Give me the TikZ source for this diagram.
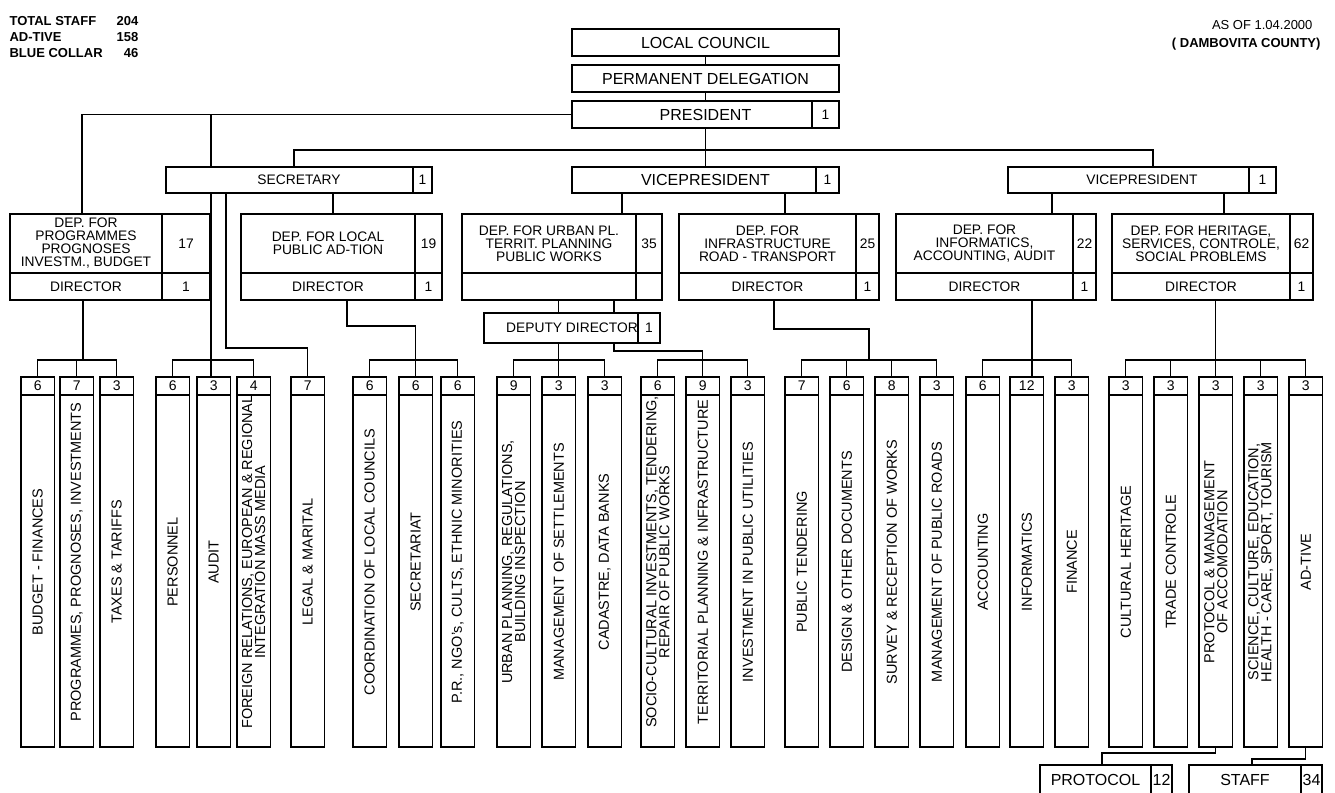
\documentclass[tikz,border=0pt]{standalone}
\usepackage{fontspec}
\setmainfont{Liberation Sans}
\usetikzlibrary{positioning}

\begin{document}
\begin{tikzpicture}[x=1pt,y=-1pt,line width=1.1pt,
    box/.style={draw,inner sep=0pt,outer sep=0pt,anchor=north west,align=center,
        font=\fontsize{13.8}{13}\selectfont},
    bigbox/.style={box,font=\fontsize{16}{16}\selectfont},
    numbox/.style={draw,inner sep=0pt,outer sep=0pt,anchor=north east,
        font=\fontsize{13.8}{14}\selectfont},
    col/.style={draw,inner sep=0pt,outer sep=0pt,anchor=north west,
        minimum width=33.5pt,minimum height=370pt},
    colnum/.style={draw,inner sep=0pt,outer sep=0pt,anchor=north,
        minimum width=33.5pt,minimum height=18pt,font=\fontsize{14}{14}\selectfont},
    coltext/.style={rotate=90,align=center,inner sep=0pt,
        font=\fontsize{14.5}{13}\selectfont}]
    \useasboundingbox (0,0) rectangle (1335,792);

    % Header
    \node[anchor=north west,inner sep=0pt,font=\bfseries\fontsize{13}{16}\selectfont] (totals) at (9,14)
        {\begin{tabular}{@{}l@{\hspace{14pt}}r@{}}TOTAL STAFF & 204\\ AD-TIVE & 158\\ BLUE COLLAR & 46\end{tabular}};
    \node[anchor=east,inner sep=0pt,font=\fontsize{13}{13}\selectfont] (asof) at (1313,25) {AS OF 1.04.2000};
    \node[anchor=east,inner sep=0pt,font=\bfseries\fontsize{13}{13}\selectfont] (county) at (1321,44) {( DAMBOVITA COUNTY)};

    % Council, delegation, president
    \node[bigbox,minimum width=267pt,minimum height=27pt] (council) at (572,29) {LOCAL COUNCIL};
    \node[bigbox,minimum width=267pt,minimum height=27pt] (deleg) at (572,65) {PERMANENT DELEGATION};
    \node[bigbox,minimum width=267pt,minimum height=27pt] (pres) at (572,101) {PRESIDENT};
    \node[numbox,minimum width=27pt,minimum height=27pt] (presn) at (pres.north east) {1};

    % Secretary and vicepresidents
    \node[box,minimum width=266pt,minimum height=26pt] (sec) at (166,167) {SECRETARY};
    \node[numbox,minimum width=19pt,minimum height=26pt] (secn) at (sec.north east) {1};
    \node[bigbox,minimum width=267pt,minimum height=26pt] (vpm) at (572,167) {VICEPRESIDENT};
    \node[numbox,minimum width=23pt,minimum height=26pt] (vpmn) at (vpm.north east) {1};
    \node[box,minimum width=268pt,minimum height=26pt] (vpr) at (1008,167) {VICEPRESIDENT};
    \node[numbox,minimum width=27pt,minimum height=26pt] (vprn) at (vpr.north east) {1};

    % Departments
    \foreach \nm/\xa/\wa/\wb/\txt/\cnt/\dtxt/\dcnt in {
        prog/10/152/48/{DEP. FOR\\PROGRAMMES\\PROGNOSES\\INVESTM., BUDGET}/17/DIRECTOR/1,
        local/241/174/27/{DEP. FOR LOCAL\\PUBLIC AD-TION}/19/DIRECTOR/1,
        urban/462/174/26/{DEP. FOR URBAN PL.\\TERRIT. PLANNING\\PUBLIC WORKS}/35/{}/{},
        infra/679/177/23/{DEP. FOR\\INFRASTRUCTURE\\ROAD - TRANSPORT}/25/DIRECTOR/1,
        info/896/177/23/{DEP. FOR\\INFORMATICS,\\ACCOUNTING, AUDIT}/22/DIRECTOR/1,
        herit/1112/178/23/{DEP. FOR HERITAGE,\\SERVICES, CONTROLE,\\SOCIAL PROBLEMS}/62/DIRECTOR/1}
    {
        \node[box,minimum width=\wa pt,minimum height=59pt] (\nm) at (\xa,214) {\txt};
        \node[box,minimum width=\wb pt,minimum height=59pt,right=0pt of \nm] (n\nm) {\cnt};
        \node[box,minimum width=\wa pt,minimum height=27pt,below=0pt of \nm] (d\nm) {\dtxt};
        \node[box,minimum width=\wb pt,minimum height=27pt,right=0pt of d\nm] (dn\nm) {\dcnt};
    }
    \node[box,minimum width=176pt,minimum height=30pt] (deputy) at (484,313) {DEPUTY DIRECTOR};
    \node[numbox,minimum width=22pt,minimum height=30pt] (deputyn) at (deputy.north east) {1};

    % Services
    \foreach \i/\x/\num/\txt in {
        1/21/6/{BUDGET - FINANCES},
        2/60/7/{PROGRAMMES, PROGNOSES, INVESTMENTS},
        3/100/3/{TAXES \& TARIFFS},
        4/156/6/{PERSONNEL},
        5/197/3/{AUDIT},
        6/237/4/{FOREIGN RELATIONS, EUROPEAN \& REGIONAL\\INTEGRATION MASS MEDIA},
        7/291/7/{LEGAL \& MARITAL},
        8/353/6/{COORDINATION OF LOCAL COUNCILS},
        9/399/6/{SECRETARIAT},
        10/441/6/{P.R., NGO's, CULTS, ETHNIC MINORITIES},
        11/497/9/{URBAN PLANNING, REGULATIONS,\\BUILDING INSPECTION},
        12/542/3/{MANAGEMENT OF SETTLEMENTS},
        13/588/3/{CADASTRE, DATA BANKS},
        14/641/6/{SOCIO-CULTURAL INVESTMENTS, TENDERING,\\REPAIR OF PUBLIC WORKS},
        15/686/9/{TERRITORIAL PLANNING \& INFRASTRUCTURE},
        16/731/3/{INVESTMENT IN PUBLIC UTILITIES},
        17/785/7/{PUBLIC TENDERING},
        18/830/6/{DESIGN \& OTHER DOCUMENTS},
        19/875/8/{SURVEY \& RECEPTION OF WORKS},
        20/920/3/{MANAGEMENT OF PUBLIC ROADS},
        21/966/6/{ACCOUNTING},
        22/1010/12/{INFORMATICS},
        23/1055/3/{FINANCE},
        24/1109/3/{CULTURAL HERITAGE},
        25/1154/3/{TRADE CONTROLE},
        26/1199/3/{PROTOCOL \& MANAGEMENT\\OF ACCOMODATION},
        27/1244/3/{SCIENCE, CULTURE, EDUCATION,\\HEALTH - CARE, SPORT, TOURISM},
        28/1289/3/{AD-TIVE}}
    {
        \node[col] (c\i) at (\x,377) {};
        \node[colnum] (cn\i) at (c\i.north) {\num};
        \node[coltext] (ct\i) at (c\i.center) {\txt};
    }

    % Protocol and staff
    \node[bigbox,minimum width=111pt,minimum height=30pt] (prot) at (1040,765) {PROTOCOL};
    \node[bigbox,minimum width=21pt,minimum height=30pt,right=0pt of prot] (protn) {12};
    \node[bigbox,minimum width=112pt,minimum height=30pt] (staff) at (1189,765) {STAFF};
    \node[bigbox,minimum width=21pt,minimum height=30pt,right=0pt of staff] (staffn) {34};

    % Top connectors
    \draw (council) -- (deleg);
    \draw (deleg) -- (pres);
    \draw (pres.west) -| (82,0 |- prog.north);
    \draw (211,0 |- pres.west) -- (211,0 |- sec.north);
    \draw (pres) -- (vpm);
    \draw (294,0 |- sec.north) |- (1153,150) -- (1153,0 |- vpr.north);

    % Secretary
    \draw (333,0 |- sec.south) -- (333,0 |- local.north);
    \draw (211,0 |- sec.south) -- (211,0 |- c5.north);
    \draw (c4.north) -- ++(0,-17) -| (c6.north);
    \draw (226,0 |- sec.south) -- (226,348) -| (c7.north);

    % Vicepresidents
    \draw (622,0 |- vpm.south) -- (622,0 |- urban.north);
    \draw (785,0 |- vpm.south) -- (785,0 |- infra.north);
    \draw (1052,0 |- vpr.south) -- (1052,0 |- info.north);
    \draw (1224,0 |- vpr.south) -- (1224,0 |- herit.north);

    % Directors to services
    \draw (83,0 |- dprog.south) -- (83,360);
    \draw (c1.north) -- ++(0,-17) -| (c3.north);
    \draw (c2.north) -- ++(0,-17);
    \draw (347,0 |- dlocal.south) -- (347,326) -| (c9.north);
    \draw (c8.north) -- ++(0,-17) -| (c10.north);
    \draw (c12.north |- durban.south) -- (c12.north |- deputy.north);
    \draw (614,0 |- durban.south) -- (614,0 |- deputy.north);
    \draw (c12.north |- deputy.south) -- (c12.north);
    \draw (c11.north) -- ++(0,-17) -| (c13.north);
    \draw (614,0 |- deputy.south) -- (614,351) -| (c15.north);
    \draw (c14.north) -- ++(0,-17) -| (c16.north);
    \draw (774,0 |- dinfra.south) -- (774,329) -| (869,360);
    \draw (c17.north) -- ++(0,-17) -| (c20.north);
    \draw (c18.north) -- ++(0,-17);
    \draw (c19.north) -- ++(0,-17);
    \draw (1032,0 |- dinfo.south) -- (1032,0 |- c22.north);
    \draw (c21.north) -- ++(0,-17) -| (c23.north);
    \draw (c26.north |- dherit.south) -- (c26.north);
    \draw (c24.north) -- ++(0,-17) -| (c28.north);
    \foreach \i in {25,27} \draw (c\i.north) -- ++(0,-17);

    % Bottom boxes
    \draw (c26.south) -- ++(0,6) -| (1102,0 |- prot.north);
    \draw (c28.south) -- ++(0,12) -| (1252,0 |- staff.north);
\end{tikzpicture}
\end{document}
